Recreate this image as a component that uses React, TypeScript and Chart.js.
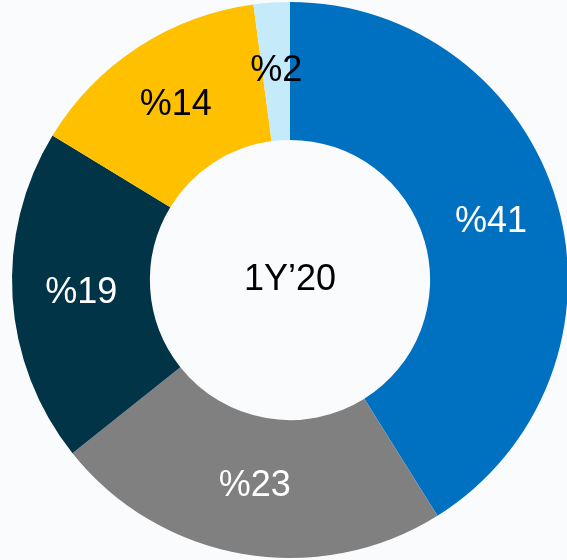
import React, { useEffect, useRef } from "react";
import { Chart, registerables } from "chart.js";

Chart.register(...registerables);

const categories = ["A", "B", "C", "D", "E"];
const values = [41.1, 23.2, 19.4, 14.2, 2.1];
const labels = ["%41", "%23", "%19", "%14", "%2"];
const colors = ["#0070C0", "#808080", "#023447", "#FFC000", "#C5EBFB"];
const labelColors = ["#FFFFFF", "#FFFFFF", "#FFFFFF", "#000000", "#000000"];
const centerText = "1Y\u201920";

const FONT = '"Liberation Sans", Arial, sans-serif';

const labelPlugin = {
  id: "sliceLabels",
  afterDatasetsDraw(chart: any) {
    const ctx = chart.ctx;
    const meta = chart.getDatasetMeta(0);
    ctx.save();
    ctx.font = `36px ${FONT}`;
    ctx.textAlign = "center";
    ctx.textBaseline = "middle";
    meta.data.forEach((arc: any, i: number) => {
      const p = arc.getCenterPoint();
      ctx.fillStyle = labelColors[i];
      ctx.fillText(labels[i], p.x, p.y);
    });
    const first = meta.data[0];
    if (first) {
      ctx.fillStyle = "#000000";
      ctx.fillText(centerText, first.x, first.y);
    }
    ctx.restore();
  },
};

export default function App() {
  const ref = useRef<HTMLCanvasElement | null>(null);
  useEffect(() => {
    document.body.style.margin = "0";
    document.body.style.overflow = "hidden";
    document.body.style.background = "#FAFBFD";
    if (!ref.current) return;
    const chart = new Chart(ref.current, {
      type: "doughnut",
      data: {
        labels: categories,
        datasets: [
          {
            data: values,
            backgroundColor: colors,
            borderWidth: 0,
          },
        ],
      },
      options: {
        animation: false,
        responsive: false,
        maintainAspectRatio: false,
        cutout: "50.4%",
        layout: { padding: { left: 12, right: 12, top: 2, bottom: 2 } },
        plugins: {
          legend: { display: false },
          tooltip: { enabled: false },
        },
      },
      plugins: [labelPlugin],
    });
    return () => chart.destroy();
  }, []);
  return (
    <div style={{ position: "absolute", left: 0, top: 0, width: 567, height: 560, overflow: "hidden", background: "#FAFBFD" }}>
      <canvas ref={ref} width={580} height={560} style={{ width: 580, height: 560, display: "block" }} />
    </div>
  );
}
